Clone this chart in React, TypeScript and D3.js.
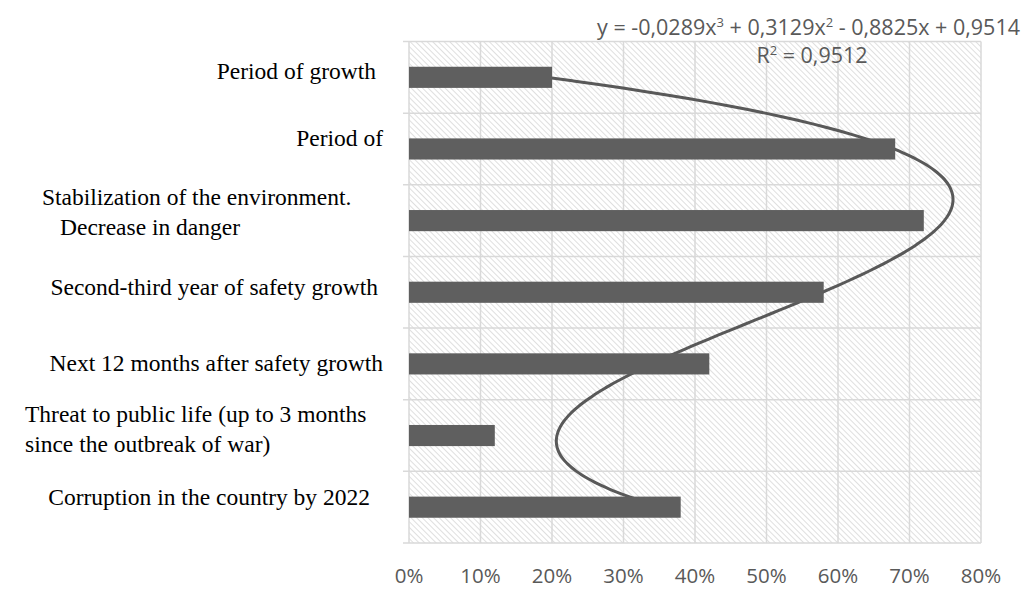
import React from "react";
import * as d3 from "d3";

// categories listed top to bottom as they appear on the chart
const categories = [
  "Period of growth",
  "Period of",
  "Stabilization of the environment.\nDecrease in danger",
  "Second-third year of safety growth",
  "Next 12 months after safety growth",
  "Threat to public life (up to 3 months\nsince the outbreak of war)",
  "Corruption in the country by 2022",
];
const values = [0.2, 0.68, 0.72, 0.58, 0.42, 0.12, 0.38];
const xTicks = [0, 0.1, 0.2, 0.3, 0.4, 0.5, 0.6, 0.7, 0.8];
// trendline coefficients, highest power first (x = category index, bottom = 1)
const trendCoef = [-0.0289, 0.3129, -0.8825, 0.9514];
const rSquared = "0,9512";

// label placement (the source labels are not evenly aligned)
const labelPos = [
  { anchor: "end", x: [376], dy: -6 },
  { anchor: "end", x: [383], dy: -11 },
  { anchor: "start", x: [42, 60], dy: -9 },
  { anchor: "end", x: [378], dy: -5 },
  { anchor: "end", x: [383], dy: -1 },
  { anchor: "start", x: [25, 25], dy: -7 },
  { anchor: "end", x: [370], dy: -10 },
];

const W = 1024;
const H = 595;
const left = 409;
const right = 981;
const top = 41.5;
const bottom = 543;
const barColor = "#5f5f5f";
const gridColor = "#d9d9d9";

const App = () => {
  const x = d3.scaleLinear().domain([0, 0.8]).range([left, right]);
  const y = d3
    .scaleBand<string>()
    .domain(categories)
    .range([top, bottom])
    .paddingInner(0.705)
    .paddingOuter(0.3525);
  // category index -> pixel (index 1 is the bottom category)
  const yIdx = d3
    .scaleLinear()
    .domain([0.5, categories.length + 0.5])
    .range([bottom, top]);

  const poly = (t: number) =>
    trendCoef.reduce((acc, c) => acc * t + c, 0);
  const trendPts = d3.range(1, categories.length + 0.001, 0.05).map((t) => [
    x(poly(t)),
    yIdx(t),
  ]) as [number, number][];
  const line = d3.line().curve(d3.curveBasis);

  const step = y.step();
  const boundaries = d3.range(categories.length + 1).map((i) => top + i * step);

  const fmt = (v: number) => `${Math.round(v * 100)}%`;
  const sup = (s: string) => (
    <tspan fontSize="13" dy="-8">
      {s}
    </tspan>
  );
  const down = (s: string) => <tspan dy="8">{s}</tspan>;

  return (
    <svg
      width={W}
      height={H}
      style={{ position: "absolute", left: 0, top: 0, background: "#fff" }}
    >
      <defs>
        <pattern
          id="hatch"
          width="4"
          height="4"
          patternUnits="userSpaceOnUse"
          patternTransform="rotate(-45)"
        >
          <rect width="4" height="4" fill="#fff" />
          <line x1="0" y1="0" x2="0" y2="4" stroke="#d2d2d2" strokeWidth="1.4" />
        </pattern>
      </defs>

      <rect x={left} y={top} width={right - left} height={bottom - top} fill="url(#hatch)" />

      {/* grid */}
      {xTicks.map((t) => (
        <line key={"gx" + t} x1={x(t)} x2={x(t)} y1={top} y2={bottom} stroke={gridColor} strokeWidth={1.5} />
      ))}
      {boundaries.map((b, i) => (
        <line key={"gy" + i} x1={left - 6} x2={right} y1={b} y2={b} stroke={gridColor} strokeWidth={1.5} />
      ))}

      {/* trendline */}
      <path d={line(trendPts) || ""} fill="none" stroke="#595959" strokeWidth={3} />

      {/* bars */}
      {categories.map((c, i) => (
        <rect
          key={"b" + i}
          x={x(0)}
          y={y(c)}
          width={x(values[i]) - x(0)}
          height={y.bandwidth()}
          fill={barColor}
        />
      ))}

      {/* category labels */}
      {categories.map((c, i) => {
        const lines = c.split("\n");
        const cy = (y(c) as number) + y.bandwidth() / 2 + labelPos[i].dy;
        const lh = 30;
        return (
          <text
            key={"l" + i}
            fontFamily="'Liberation Serif', 'Times New Roman', serif"
            fontSize="23.5"
            fill="#000"
            textAnchor={labelPos[i].anchor}
          >
            {lines.map((ln, j) => (
              <tspan
                key={j}
                x={labelPos[i].x[j]}
                y={cy + (j - (lines.length - 1) / 2) * lh}
                dominantBaseline="central"
              >
                {ln}
              </tspan>
            ))}
          </text>
        );
      })}

      {/* x tick labels */}
      {xTicks.map((t) => (
        <text
          key={"t" + t}
          x={x(t)}
          y={575}
          textAnchor="middle"
          dominantBaseline="central"
          fontFamily="'Open Sans', sans-serif"
          fontSize="20.5"
          fill="#595959"
        >
          {fmt(t)}
        </text>
      ))}

      {/* trendline equation */}
      <text
        x={1020}
        y={35}
        textAnchor="end"
        fontFamily="'Open Sans', sans-serif"
        fontSize="21.5"
        fill="#595959"
      >
        y = -0,0289x{sup("3")}
        {down(" + 0,3129x")}
        {sup("2")}
        {down(" - 0,8825x + 0,9514")}
      </text>
      <text
        x={812}
        y={63}
        textAnchor="middle"
        fontFamily="'Open Sans', sans-serif"
        fontSize="21.5"
        fill="#595959"
      >
        R{sup("2")}
        {down(" = " + rSquared)}
      </text>
    </svg>
  );
};

export default App;
